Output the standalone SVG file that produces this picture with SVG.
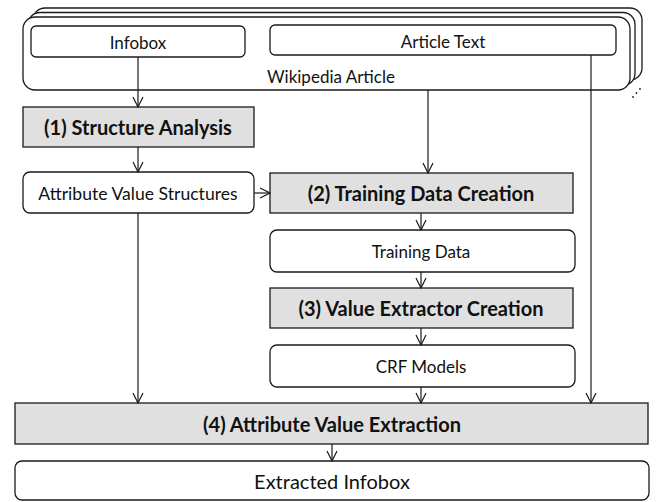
<svg xmlns="http://www.w3.org/2000/svg" width="659" height="502" viewBox="0 0 659 502">
  <style>
    .box { fill: #ffffff; stroke: #1a1a1a; stroke-width: 1.3; }
    .step { fill: #e0e0e0; stroke: #1a1a1a; stroke-width: 1.3; }
    .lbl { font-family: Lato, "Open Sans", sans-serif; font-size: 17px; fill: #111; text-anchor: middle; dominant-baseline: central; }
    .big { font-size: 20px; }
    .bold { font-family: Lato, "Open Sans", sans-serif; font-size: 20px; font-weight: bold; fill: #111; text-anchor: middle; dominant-baseline: central; }
    .edge { stroke: #1a1a1a; stroke-width: 1.2; fill: none; marker-end: url(#vee); }
  </style>
  <defs>
    <marker id="vee" viewBox="0 0 12 12" refX="11" refY="6" markerWidth="12" markerHeight="12" markerUnits="userSpaceOnUse" orient="auto">
      <polyline points="1,1 11,6 1,11" fill="none" stroke="#1a1a1a" stroke-width="1.2"/>
    </marker>
  </defs>
  <rect width="659" height="502" fill="#ffffff"/>

  <!-- stacked article pages -->
  <g id="wikipedia-article">
    <rect class="box" x="33" y="8" width="609" height="72" rx="12"/>
    <rect class="box" x="28" y="12.5" width="607" height="73" rx="12"/>
    <rect class="box" x="23" y="17" width="607" height="73" rx="12"/>
    <text class="lbl" x="331" y="76">Wikipedia Article</text>
    <circle cx="633" cy="97" r="0.9" fill="#222"/>
    <circle cx="636.5" cy="93" r="0.9" fill="#222"/>
    <circle cx="640" cy="89" r="0.9" fill="#222"/>
  </g>
  <g id="infobox">
    <rect class="box" x="31" y="26" width="214" height="31" rx="5"/>
    <text class="lbl" x="138" y="42">Infobox</text>
  </g>
  <g id="article-text">
    <rect class="box" x="270" y="25" width="346" height="30" rx="5"/>
    <text class="lbl" x="443" y="41">Article Text</text>
  </g>

  <g id="structure-analysis">
    <rect class="step" x="23" y="107" width="231" height="40"/>
    <text class="bold" x="138" y="127">(1) Structure Analysis</text>
  </g>
  <g id="attribute-value-structures">
    <rect class="box" x="23" y="172" width="231" height="41" rx="7"/>
    <text class="lbl" x="138" y="193" style="font-size:17.6px">Attribute Value Structures</text>
  </g>
  <g id="training-data-creation">
    <rect class="step" x="270" y="173" width="303" height="40"/>
    <text class="bold" x="421" y="193">(2) Training Data Creation</text>
  </g>
  <g id="training-data">
    <rect class="box" x="270" y="230" width="305" height="42" rx="7"/>
    <text class="lbl" x="421" y="251">Training Data</text>
  </g>
  <g id="value-extractor-creation">
    <rect class="step" x="270" y="288" width="303" height="40"/>
    <text class="bold" x="421" y="308">(3) Value Extractor Creation</text>
  </g>
  <g id="crf-models">
    <rect class="box" x="270" y="345" width="305" height="42" rx="7"/>
    <text class="lbl" x="421" y="366">CRF Models</text>
  </g>
  <g id="attribute-value-extraction">
    <rect class="step" x="15" y="403" width="633" height="41"/>
    <text class="bold" x="332" y="424">(4) Attribute Value Extraction</text>
  </g>
  <g id="extracted-infobox">
    <rect class="box" x="15" y="461" width="634" height="39" rx="7"/>
    <text class="lbl big" x="332" y="481">Extracted Infobox</text>
  </g>

  <g id="connectors">
    <line class="edge" x1="138" y1="57" x2="138" y2="107"/>
    <line class="edge" x1="138" y1="147" x2="138" y2="172"/>
    <line class="edge" x1="254" y1="193" x2="270" y2="193"/>
    <line class="edge" x1="428" y1="90" x2="428" y2="173"/>
    <line class="edge" x1="421" y1="213" x2="421" y2="230"/>
    <line class="edge" x1="421" y1="272" x2="421" y2="288"/>
    <line class="edge" x1="421" y1="328" x2="421" y2="345"/>
    <line class="edge" x1="421" y1="387" x2="421" y2="403"/>
    <line class="edge" x1="138" y1="213" x2="138" y2="403"/>
    <line class="edge" x1="591" y1="55" x2="591" y2="403"/>
    <line class="edge" x1="332" y1="444" x2="332" y2="461"/>
  </g>
</svg>
